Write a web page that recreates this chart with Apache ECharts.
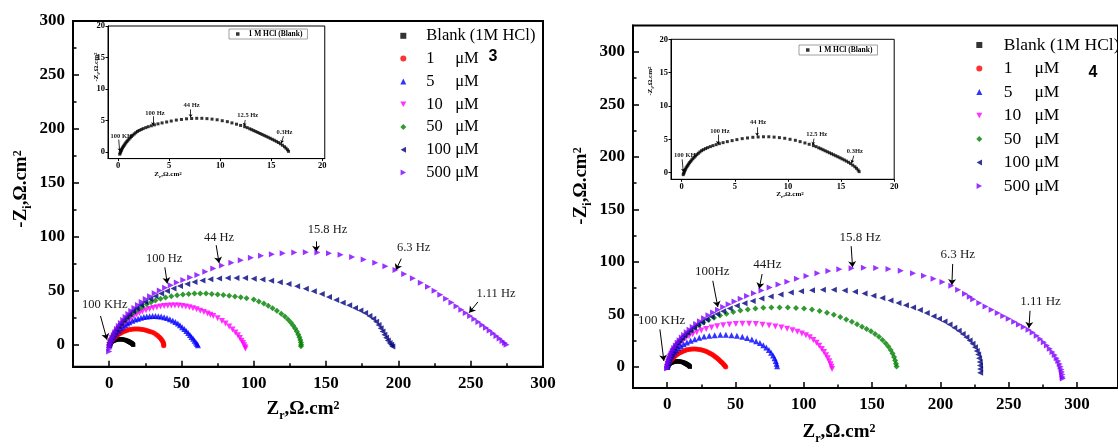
<!DOCTYPE html>
<html><head><meta charset="utf-8">
<script src="https://cdn.jsdelivr.net/npm/echarts@6/dist/echarts.min.js"></script>
<style>html,body{margin:0;padding:0;background:#fff}#c{width:1118px;height:448px}</style>
</head><body><div id="c"></div><script>
// ---------- data ----------
const seriesNames = ['Blank (1M HCl)', '1 μM', '5 μM', '10 μM', '50 μM', '100 μM', '500 μM'];
const insetName = '1 M HCl (Blank)';
const mainTicks = [0, 50, 100, 150, 200, 250, 300];
const mainMinor = [-25, 25, 75, 125, 175, 225, 275];
const insetTicks = [0, 5, 10, 15, 20];

// blank (1 M HCl) - same measurement in insets and main plots
const blank = [[0.15,-0.3],[0.2,-0.1],[0.25,0.1],[0.3,0.3],[0.35,0.5],[0.42,0.7],[0.5,0.9],[0.58,1.1],[0.66,1.3],[0.75,1.5],[0.85,1.7],[0.95,1.9],[1.06,2.1],[1.18,2.3],[1.3,2.5],[1.43,2.7],[1.57,2.9],[1.72,3.1],[1.88,3.3],[2.05,3.45],[2.25,3.6],[2.45,3.75],[2.7,3.9],[2.95,4.05],[3.25,4.2],[3.55,4.35],[3.9,4.5],[4.3,4.65],[4.75,4.8],[5.2,4.95],[5.7,5.1],[6.2,5.2],[6.7,5.3],[7.2,5.35],[7.7,5.38],[8.2,5.38],[8.7,5.33],[9.2,5.25],[9.7,5.15],[10.2,5.0],[10.7,4.85],[11.15,4.65],[11.6,4.45],[12.0,4.25],[12.4,4.05],[12.65,3.9],[12.9,3.72],[13.1,3.58],[13.3,3.43],[13.5,3.28],[13.7,3.13],[13.9,2.98],[14.1,2.83],[14.3,2.68],[14.5,2.53],[14.7,2.38],[14.9,2.22],[15.1,2.06],[15.3,1.9],[15.5,1.73],[15.7,1.55],[15.9,1.35],[16.1,1.12],[16.3,0.88],[16.45,0.65],[16.6,0.4],[16.7,0.15]];

// panel 3
const p3_1 = [[0,0],[0.3,0.8],[0.6,1.6],[1,2.5],[1.5,3.5],[2,4.4],[2.6,5.4],[3.2,6.3],[3.9,7.2],[4.6,8],[5.4,8.9],[6.2,9.7],[7.1,10.5],[8,11.2],[9,11.9],[10,12.5],[11.1,13.1],[12.2,13.6],[13.4,14.1],[14.6,14.4],[15.8,14.7],[17,14.9],[18.2,15],[19.4,15],[20.6,14.9],[21.8,14.7],[23,14.4],[24.2,14.1],[25.4,13.7],[26.5,13.3],[27.6,12.9],[28.6,12.4],[30,11.8],[31.3,10.9],[32.5,9.9],[33.5,8.9],[34.4,7.8],[35.2,6.7],[35.9,5.6],[36.5,4.5],[37,3.4],[37.4,2.3],[37.7,1.2],[37.8,0.2],[37.7,-0.6]];
const p3_5 = [[0,0],[0.5,2],[1,3.8],[2,6],[3,8],[4,9.8],[5,11.5],[6.5,13.6],[8,15.5],[9.5,17.2],[11,18.7],[12.5,20],[14,21.2],[16,22.5],[18,23.6],[20,24.5],[22,25.3],[24,25.9],[26,26.4],[28,26.8],[30,27],[32,27],[34,26.8],[36,26.4],[38,25.8],[40,25],[42,24],[44,22.8],[45.8,21.4],[47.5,19.9],[49,18.3],[50.5,16.6],[52,14.8],[53.4,13],[54.7,11.2],[55.9,9.4],[57,7.6],[58.1,5.8],[59.1,4.1],[60,2.5],[60.8,1],[61.4,-0.2]];
const p3_10 = [[0,0],[0.5,2.2],[1,4],[2,6.5],[3,8.7],[4,10.6],[5,12.4],[6.5,14.8],[8,17],[9.5,19],[11,20.8],[13,23],[15,25],[17,26.8],[19,28.4],[21,29.8],[23,31],[25.5,32.3],[28,33.4],[30.5,34.3],[33,35.1],[35.5,35.7],[38,36.2],[40.5,36.5],[43,36.7],[45.5,36.7],[48,36.6],[50.5,36.3],[53,35.8],[55.5,35.1],[58,34.2],[60.5,33.1],[63,31.8],[65.5,30.6],[68,29.2],[70,28.1],[72,27],[75,24.8],[78,22.4],[80.5,20],[83,17.3],[85.3,14.5],[87.3,11.7],[89,9],[90.4,6.5],[91.6,4.1],[92.6,1.9],[93.4,-0.2],[94,-2],[94.3,-3.2]];
const p3_50 = [[0,0],[0.5,2.3],[1,4.3],[2,7],[3,9.4],[4,11.6],[5,13.6],[6.5,16.3],[8,18.8],[10,21.8],[12,24.5],[14,27],[16,29.2],[18,31.2],[20.5,33.5],[23,35.5],[26,37.7],[29,39.6],[32,41.2],[35.5,42.8],[39,44.1],[43,45.3],[47,46.2],[51,46.9],[55,47.4],[59,47.7],[63,47.8],[67,47.7],[71,47.4],[75,46.9],[79,46.3],[83,45.7],[87,45],[91,44.3],[95,43.4],[100,42.2],[103.5,40.4],[107,38.4],[110,36.4],[113,34.2],[116,31.8],[119,29.1],[121.5,26.5],[123.7,23.8],[125.6,21],[127.2,18.2],[128.6,15.4],[129.8,12.6],[130.8,9.9],[131.6,7.3],[132.2,4.8],[132.6,2.4],[132.8,0.3],[132.6,-1]];
const p3_100 = [[0,0],[0.5,2.5],[1,4.6],[2,7.5],[3,10],[4,12.3],[5,14.4],[6.5,17.3],[8,19.9],[10,23],[12,25.9],[14,28.5],[16.5,31.5],[19,34.2],[22,37.1],[25,39.8],[28.5,42.6],[32,45.1],[36,47.7],[40,50.1],[44.5,52.5],[49,54.6],[54,56.6],[59,58.3],[64.5,59.8],[70,60.9],[76,61.7],[82,62.1],[88,62.2],[94,62],[100,61.5],[106,60.7],[112,59.6],[118,58.2],[124,56.5],[130,54.5],[136,52.2],[141.5,49.8],[147,47.2],[152,44.6],[157,41.8],[161.5,39.3],[166,36.8],[170,34.4],[173.7,32],[177,29.6],[180,27],[182.6,24.4],[184.6,21.7],[186.3,18.7],[187.7,15.6],[189,12.5],[190.3,9.6],[191.5,6.8],[192.7,4.2],[193.9,2],[195,0.3],[195.8,-1.4]];
const p3_500 = [[0,-6],[0.3,-3.5],[0.7,-1],[1.2,1.5],[1.8,4],[2.5,6.6],[3.3,9.2],[4.3,12],[5.4,14.8],[6.7,17.6],[8.1,20.4],[9.7,23.2],[11.4,26],[13.3,28.8],[15.3,31.6],[17.5,34.4],[19.9,37.2],[22.5,40],[25.3,42.7],[28.3,45.3],[31.5,47.9],[35,50.5],[38.7,53.1],[42.6,55.5],[46.8,57.9],[51.3,60.2],[56,62.5],[61,64.8],[66.5,67.8],[72,70.8],[78,73.6],[84.5,76.2],[91,78.6],[98,80.8],[105,82.6],[112.5,84],[120,85],[128,85.6],[136,85.9],[144,85.8],[152,85.1],[160,83.6],[168,81.6],[176,79.2],[184,76.3],[191,73],[198,69.4],[204,65.7],[210,61.8],[215.5,57.8],[220.5,54],[225,50.3],[229,46.7],[233,43],[236.7,39.4],[240.2,36],[243.5,32.8],[246.6,29.8],[249.6,26.9],[252.5,24.1],[255.3,21.4],[258,18.7],[260.6,16.1],[263.1,13.5],[265.5,11],[267.8,8.5],[270,6.1],[272,3.9],[273.7,1.9],[274.8,0.4]];

// panel 4
const p4_1 = [[0,0],[0.3,0.9],[0.6,1.8],[0.9,2.7],[1.3,3.6],[1.7,4.5],[2.2,5.4],[2.7,6.3],[3.3,7.2],[3.9,8.1],[4.6,9],[5.3,9.9],[6.1,10.8],[6.9,11.6],[7.8,12.4],[8.8,13.2],[9.8,13.9],[10.9,14.6],[12,15.2],[13.2,15.8],[14.4,16.3],[15.7,16.6],[17,16.9],[18.3,17],[19.6,17],[20.9,17],[22.2,16.9],[23.5,16.7],[24.8,16.4],[26,16],[27.2,15.5],[28.4,14.9],[29.5,14.3],[30.6,13.6],[31.6,12.9],[32.6,12.1],[33.6,11.3],[34.5,10.5],[35.4,9.6],[36.3,8.7],[37.1,7.8],[37.9,6.9],[38.7,6],[39.4,5.1],[40.1,4.2],[40.8,3.3],[41.4,2.4],[42,1.6],[42.5,0.8],[42.9,0]];
const p4_5 = [[0,0],[0.4,2],[0.9,4],[1.5,6],[2.2,8],[3,10],[4,12],[5.2,14],[6.6,16],[8.2,18],[10,19.9],[12.1,21.7],[14.5,23.4],[17.2,25],[20.2,26.5],[23.5,27.8],[27,28.9],[30.8,29.7],[34.8,30.3],[38.9,30.6],[43,30.6],[47.1,30.3],[51.1,29.7],[55,28.8],[58.6,27.6],[62,26.2],[65.1,24.6],[67.9,22.8],[70.4,20.8],[72.6,18.6],[74.5,16.2],[76.1,13.6],[77.5,10.9],[78.6,8.2],[79.5,5.6],[80.1,3.1],[80.5,0.8]];
const p4_10 = [[0,0],[0.4,2.3],[0.9,4.6],[1.5,6.9],[2.2,9.2],[3,11.5],[4,13.8],[5.1,16.1],[6.4,18.4],[7.9,20.7],[9.6,23],[11.5,25.2],[13.6,27.3],[16,29.3],[18.7,31.2],[21.7,33],[25,34.7],[28.6,36.2],[32.5,37.6],[36.6,38.8],[41,39.8],[45.6,40.5],[50.3,41],[55.1,41.2],[60,41.2],[64.9,40.9],[69.8,40.3],[74.6,39.4],[79.2,38.5],[83.6,37.6],[87.8,36.4],[91.7,35],[95.3,33.5],[98.6,31.9],[101.6,30.2],[104.4,28.2],[107,25.8],[109.3,23.1],[111.3,20.2],[113.2,17.2],[114.8,14.2],[116.3,11.2],[117.6,8.2],[118.7,5.4],[119.6,2.7],[120.3,0.2],[120.7,-1.8]];
const p4_50 = [[0,0],[0.4,2.5],[0.9,5],[1.5,7.5],[2.2,10],[3,12.5],[3.9,15],[5,17.5],[6.2,20],[7.6,22.5],[9.2,25],[11,27.5],[13,30],[15.2,32.5],[17.6,35],[20.3,37.5],[23.3,40],[26.6,42.4],[30.3,44.7],[34.3,46.9],[38.7,48.9],[43.4,50.7],[48.4,52.3],[53.6,53.7],[59,54.8],[64.6,55.7],[70.4,56.3],[76.3,56.6],[82.3,56.7],[88.3,56.6],[94.3,56.2],[100.2,55.6],[106,54.7],[111.6,53.4],[117,51.7],[122,49.7],[126.7,47.5],[131.1,45.3],[135.2,43],[139,40.6],[142.6,38.4],[146,36.2],[149.2,33.9],[152.2,31.4],[155,28.7],[157.6,25.8],[159.9,22.7],[161.9,19.5],[163.6,16.2],[165,12.8],[166.1,9.4],[166.9,6.1],[167.5,3],[167.9,0.5]];
const p4_100 = [[0,0],[0.4,2.5],[0.9,5],[1.5,7.5],[2.2,10],[3,12.5],[3.9,15],[5,17.5],[6.2,20],[7.6,22.5],[9.1,25],[10.8,27.5],[12.7,30],[14.8,32.5],[17.1,35],[19.6,37.5],[22.4,40],[25.5,42.6],[28.9,45.2],[32.6,47.8],[36.6,50.4],[41,53],[45.8,55.6],[51,58.2],[56.6,60.6],[62.6,62.9],[69,65.1],[75.8,67.2],[83,69.1],[90.5,70.8],[98,72.1],[106,73.1],[114,73.6],[122,73.6],[130,72.9],[137.5,71.6],[144.5,69.9],[151,67.9],[157.5,65.6],[163.5,63.2],[169.3,61],[174.8,58.8],[180,56.6],[185,54.2],[190,51.4],[195,48.4],[199,45.9],[203,43.2],[206.7,40.4],[210.2,37.4],[213.4,34.4],[216.3,31.4],[219,28.3],[221.4,25.2],[223.5,22],[225.3,18.7],[226.6,15.3],[227.6,11.8],[228.3,8.3],[228.8,4.8],[229,1.4],[229.1,-2],[229.1,-5.4]];
const p4_500 = [[0,-1.5],[0.3,0.5],[0.7,3],[1.2,5.5],[1.8,8],[2.5,10.5],[3.3,13],[4.2,15.5],[5.2,18],[6.4,20.5],[7.7,23],[9.1,25.5],[10.7,28],[12.4,30.5],[14.3,33],[16.4,35.5],[18.7,38],[21.2,40.8],[24,43.6],[27,46.4],[30.2,49.2],[33.6,51.8],[37.2,54.5],[41,57.2],[45,59.8],[49.3,62.4],[53.8,65],[58.5,67.6],[63.5,70.2],[69,72.8],[75,75.6],[81.5,78.4],[88,81.2],[95,84],[102,86.6],[110,89.2],[118,91.3],[126,92.9],[135,94],[144,94.5],[153,94.2],[162,93.3],[171,91.6],[180,89.3],[188,86.8],[195,84],[201.5,81],[208,77.4],[213,73.6],[218,69.6],[221.5,66.8],[224,64.5],[228.5,61],[233,57.6],[237.5,54.4],[242,51.3],[246,48.6],[250,45.8],[254,43],[257.5,40.5],[261,38],[264.5,35.5],[267.5,32.8],[270.5,29.8],[273.2,26.7],[275.7,23.6],[278,20.5],[280.1,17.4],[282,14.3],[283.7,11.3],[285.1,8.4],[286.3,5.6],[287.3,2.9],[288,0.3],[288.6,-2.3],[289,-4.8],[289.3,-7.2],[289.5,-9.5],[289.6,-11]];

const panel3 = [blank, p3_1, p3_5, p3_10, p3_50, p3_100, p3_500];
const panel4 = [blank, p4_1, p4_5, p4_10, p4_50, p4_100, p4_500];

// frequency notes: [text, text anchor, arrow start, arrow tip] in data units
const notes3 = [
  ['100 KHz', [-3, 37], [-6, 27], [-1.5, 5]],
  ['100 Hz', [38, 80], [38.5, 72], [40.2, 57]],
  ['44 Hz', [76, 99.5], [74, 92.5], [76, 76]],
  ['15.8 Hz', [151, 106.5], [143, 96], [143.2, 86.5]],
  ['6.3 Hz', [210.5, 90.5], [202, 80], [198.3, 69.5]],
  ['1.11 Hz', [267.5, 47.8], [255, 40], [249, 30]]
];
const notes4 = [
  ['100 KHz', [-4, 43.7], [-5.3, 35.8], [-2.4, 5.7]],
  ['100Hz', [33, 91], [33.4, 82], [37.1, 57]],
  ['44Hz', [73.4, 97.5], [69.5, 88.5], [67.4, 74.5]],
  ['15.8 Hz', [141.3, 122.8], [134.7, 115], [135.7, 95]],
  ['6.3 Hz', [212.7, 107], [209, 98], [208.4, 78]],
  ['1.11 Hz', [273.3, 62.7], [265.6, 53.5], [264.8, 37]]
];
const insetNotes = [
  ['100 KH', [0.3, 2.6], [0.05, 2.0], [0.15, 0.15]],
  ['100 Hz', [3.6, 6.2], [3.4, 5.7], [3.4, 4.3]],
  ['44 Hz', [7.2, 7.5], [7.1, 6.8], [7.1, 5.55]],
  ['12.5 Hz', [12.7, 5.8], [12.45, 5.1], [12.35, 4.15]],
  ['0.3Hz', [16.3, 3.15], [16.2, 2.55], [16.0, 1.45]]
];

// ---------- styles ----------
const SERIF = "'Times New Roman','Liberation Serif',serif";
const SANS = "'Liberation Sans','DejaVu Sans',Arial,sans-serif";
const colors = ['#000000', '#ff0000', '#0000ff', '#ff00ff', '#008000', '#000080', '#8000ff'];
const symbols = ['rect', 'circle', 'triangle',
  'path://M0,0L10,0L5,9Z', 'diamond', 'path://M9,0L9,10L0,5Z', 'path://M0,0L0,10L9,5Z'];
const sizes = [4, 5, 6, 6, 6, 6, 6];

function majorX(g, min, max) {
  return {
    gridIndex: g, type: 'value', min: min, max: max, position: 'bottom',
    axisLine: { show: true, onZero: false, lineStyle: { color: '#000', width: 2 } },
    axisTick: { show: true, inside: true, length: 6, lineStyle: { color: '#000', width: 1.5 }, customValues: mainTicks },
    axisLabel: { customValues: mainTicks, margin: 8, color: '#000', fontFamily: SERIF, fontWeight: 'bold', fontSize: 17 },
    splitLine: { show: false }
  };
}
function minorX(g, min, max) {
  return {
    gridIndex: g, type: 'value', min: min, max: max, position: 'bottom',
    axisLine: { show: false, onZero: false },
    axisTick: { show: true, inside: true, length: 3.5, lineStyle: { color: '#000', width: 1.5 }, customValues: mainMinor },
    axisLabel: { show: false }, splitLine: { show: false }
  };
}
function majorY(g, min, max) {
  const a = majorX(g, min, max); a.position = 'left'; return a;
}
function minorY(g, min, max) {
  const a = minorX(g, min, max); a.position = 'left'; return a;
}
function insetAxis(g, min, max, pos) {
  return {
    gridIndex: g, type: 'value', min: min, max: max, position: pos,
    axisLine: { show: true, onZero: false, lineStyle: { color: '#000', width: 1 } },
    axisTick: { show: true, inside: false, length: 2.5, lineStyle: { color: '#000', width: 1 }, customValues: insetTicks },
    axisLabel: { customValues: insetTicks, margin: 3, color: '#000', fontFamily: SERIF, fontWeight: 'bold', fontSize: 8.5 },
    splitLine: { show: false }
  };
}

function notesMarks(notes, fontSize, arrowSize, bold) {
  return {
    markLine: {
      silent: true, animation: false, symbol: ['none', 'arrow'], symbolSize: arrowSize,
      lineStyle: { color: '#000', width: bold ? 0.8 : 1, type: 'solid' },
      label: { show: false },
      data: notes.map(n => [{ coord: n[2] }, { coord: n[3] }])
    },
    markPoint: {
      silent: true, animation: false, symbol: 'circle', symbolSize: 1,
      itemStyle: { color: 'rgba(0,0,0,0)' },
      label: { show: true, position: 'inside', formatter: '{b}', color: '#1a1a1a',
        fontFamily: SERIF, fontSize: fontSize, fontWeight: bold ? 'bold' : 'normal' },
      data: notes.map(n => ({ name: n[0], coord: n[1] }))
    }
  };
}

const series = [];
function addPanel(data, xi, yi, notes, annotSize) {
  data.forEach((d, i) => {
    const s = {
      type: 'scatter', name: seriesNames[i], xAxisIndex: xi, yAxisIndex: yi, data: d,
      symbol: symbols[i], symbolSize: sizes[i],
      itemStyle: { color: colors[i] }, silent: true, z: 2 + i
    };
    if (i === data.length - 1) Object.assign(s, notesMarks(notes, annotSize, 6, false));
    series.push(s);
  });
}
addPanel(panel3, 0, 0, notes3, 12.5);
addPanel(panel4, 3, 3, notes4, 13);
[2, 5].forEach(ax => {
  series.push(Object.assign({
    type: 'scatter', name: insetName, xAxisIndex: ax, yAxisIndex: ax, data: blank,
    symbol: 'rect', symbolSize: 3, itemStyle: { color: '#000' }, silent: true, z: 20
  }, notesMarks(insetNotes, 6.5, 3, true)));
});

function legendFmt(name) {
  const p = name.split(' ');
  if (p[1] === 'μM') return '{n|' + p[0] + '}{u|μM}';
  return name;
}
function mainLegend(left, top, fs, gap, numW, pad) {
  return {
    orient: 'vertical', left: left, top: top, itemWidth: 6, itemHeight: 6, itemGap: gap,
    selectedMode: false, data: seriesNames, formatter: legendFmt,
    textStyle: {
      fontFamily: SERIF, fontSize: fs, color: '#000', lineHeight: 20, padding: [0, 0, 0, pad],
      rich: { n: { width: numW, fontFamily: SERIF, fontSize: fs, color: '#000' },
              u: { fontFamily: SERIF, fontSize: fs, color: '#000' } }
    }
  };
}
function insetLegend(left, top) {
  return {
    orient: 'horizontal', left: left, top: top, itemWidth: 3.5, itemHeight: 3.5,
    selectedMode: false, data: [insetName], padding: [1, 5, 1, 7],
    borderColor: '#888', borderWidth: 0.8,
    textStyle: { fontFamily: SERIF, fontWeight: 'bold', fontSize: 7.5, color: '#000', lineHeight: 7, padding: [0, 0, 0, 4] }
  };
}

function rich(main, small, lh, pad) {
  return {
    m: { fontSize: main, fontWeight: 'bold', fontFamily: SERIF, fill: '#000', lineHeight: lh, padding: [0, 0, pad, 0], verticalAlign: 'top' },
    sub: { fontSize: small, fontWeight: 'bold', fontFamily: SERIF, fill: '#000', lineHeight: small, verticalAlign: 'bottom' },
    sup: { fontSize: small, fontWeight: 'bold', fontFamily: SERIF, fill: '#000', lineHeight: small, verticalAlign: 'top' }
  };
}
const yTitle = '{m|-Z}{sub|i}{m|,Ω.cm}{sup|2}';
const xTitle = '{m|Z}{sub|r}{m|,Ω.cm}{sup|2}';
function title(text, x, y, rot, big) {
  return {
    type: 'text', x: x, y: y, rotation: rot ? Math.PI / 2 : 0, silent: true, z: 50,
    style: { text: text, align: 'center', verticalAlign: 'middle',
      rich: big ? rich(19, 12, 22, 3) : rich(7, 5, 8, 1.5) }
  };
}

const option = {
  animation: false,
  backgroundColor: '#fff',
  grid: [
    { left: 73, top: 21, width: 470, height: 345.7, show: true, borderColor: '#000', borderWidth: 2 },
    { left: 108, top: 26, width: 216.75, height: 132.6, show: true, borderColor: '#000', borderWidth: 1 },
    { left: 633, top: 25.5, width: 488.3, height: 362.5, show: true, borderColor: '#000', borderWidth: 2 },
    { left: 671, top: 39.3, width: 223.2, height: 140, show: true, borderColor: '#000', borderWidth: 1 }
  ],
  xAxis: [
    majorX(0, -25, 300), minorX(0, -25, 300), insetAxis(1, -1, 20.25, 'bottom'),
    majorX(2, -25, 330), minorX(2, -25, 330), insetAxis(3, -1, 20, 'bottom')
  ],
  yAxis: [
    majorY(0, -20, 300), minorY(0, -20, 300), insetAxis(1, -1, 20, 'left'),
    majorY(2, -20, 325), minorY(2, -20, 325), insetAxis(3, -1, 20, 'left')
  ],
  legend: [
    mainLegend(395.3, 20.8, 16.5, 2.8, 28.9, 15),
    mainLegend(971.3, 30, 17.5, 3.5, 30.6, 16.5),
    insetLegend(229, 29),
    insetLegend(799, 45)
  ],
  series: series,
  graphic: [
    title(yTitle, 23, 189, true, true),
    title(xTitle, 303, 411, false, true),
    title(yTitle, 583, 186, true, true),
    title(xTitle, 839, 434, false, true),
    title(yTitle, 97, 67, true, false),
    title(xTitle, 168, 175, false, false),
    title(yTitle, 651, 81, true, false),
    title(xTitle, 790, 195, false, false),
    { type: 'text', x: 493, y: 57, silent: true, style: { text: '3', fontFamily: SANS, fontWeight: 'bold', fontSize: 16, fill: '#000', align: 'center', verticalAlign: 'middle' } },
    { type: 'text', x: 1093, y: 73, silent: true, style: { text: '4', fontFamily: SANS, fontWeight: 'bold', fontSize: 16, fill: '#000', align: 'center', verticalAlign: 'middle' } }
  ]
};
const chart = echarts.init(document.getElementById('c'), null, { renderer: 'canvas' });
chart.setOption(option);
</script></body></html>
